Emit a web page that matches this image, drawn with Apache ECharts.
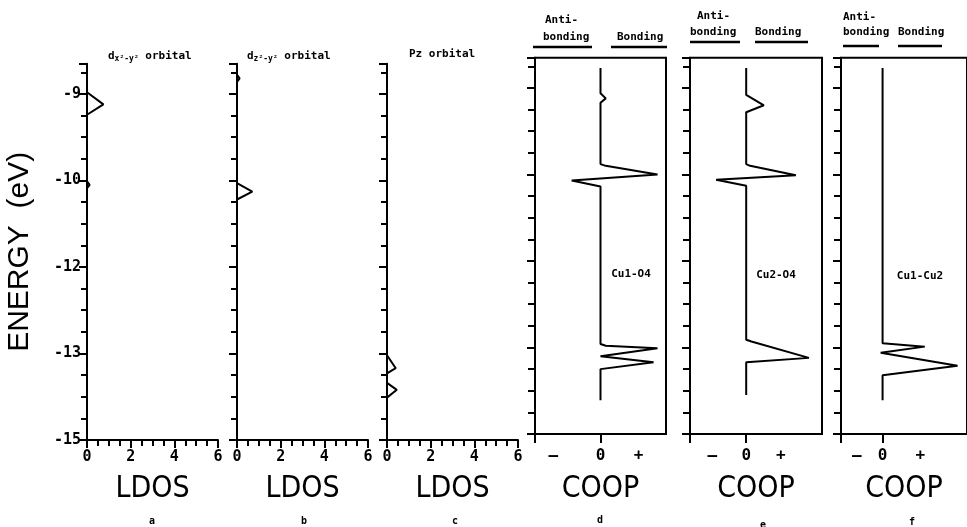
<!DOCTYPE html>
<html><head><meta charset="utf-8">
<script src="https://cdn.jsdelivr.net/npm/echarts@6/dist/echarts.min.js"></script>
<style>html,body{margin:0;padding:0;background:#fff}#c{width:967px;height:527px}</style>
</head><body><div id="c"></div>
<script>
// Energy positions are in axis units: 0 = "-15" label, each major label step = 1
const yTickLabels = ['-15', '-13', '-12', '-10', '-9'];
const ldosTicks = ['0', '2', '4', '6'];
const panelLetters = ['a', 'b', 'c', 'd', 'e', 'f'];
const coopNames = ['Cu1-O4', 'Cu2-O4', 'Cu1-Cu2'];

// LDOS a: d x2-y2 (value, energy position)
const ldosA_V = [0, 0, 0.75, 0, 0, 0.12, 0, 0];
const ldosA_E = [4.35, 4.02, 3.88, 3.76, 2.99, 2.95, 2.91, 0];
// LDOS b: d z2-y2
const ldosB_V = [0, 0, 0.12, 0, 0, 0.7, 0, 0];
const ldosB_E = [4.35, 4.22, 4.18, 4.14, 2.97, 2.87, 2.78, 0];
// LDOS c: Pz
const ldosC_V = [0, 0, 0.4, 0, 0, 0.45, 0, 0];
const ldosC_E = [4.35, 0.98, 0.83, 0.77, 0.66, 0.58, 0.49, 0];
// COOP d: Cu1-O4
const coopD_V = [0, 0, 0.08, 0, 0, 0.08, 0.87, -0.44, 0, 0, 0.08, 0.87, 0, 0.81, 0, 0];
const coopD_E = [4.23, 3.94, 3.88, 3.83, 3.12, 3.10, 3.0, 2.93, 2.86, 1.04, 1.02, 0.99, 0.90, 0.83, 0.75, 0.39];
// COOP e: Cu2-O4
const coopE_V = [0, 0, 0.27, 0, 0, 0.06, 0.76, -0.46, 0, 0, 0.08, 0.96, 0, 0];
const coopE_E = [4.23, 3.92, 3.80, 3.72, 3.12, 3.10, 2.99, 2.94, 2.87, 1.09, 1.07, 0.88, 0.83, 0.45];
// COOP f: Cu1-Cu2
const coopF_V = [0, 0, 0.67, -0.03, 1.19, 0, 0];
const coopF_E = [4.23, 1.05, 1.01, 0.94, 0.79, 0.68, 0.39];

const ldosSeries = [[ldosA_V, ldosA_E], [ldosB_V, ldosB_E], [ldosC_V, ldosC_E]];
const coopSeries = [[coopD_V, coopD_E], [coopE_V, coopE_E], [coopF_V, coopF_E]];

const ldosLeft = [87, 237, 387];
const coopLeft = [535, 690, 841];
const coopRange = [[-1, 1], [-0.86, 1.16], [-0.66, 1.34]];
const coopLabelPos = [[-0.72, 0, 0.58], [-0.52, 0, 0.53], [-0.41, 0, 0.6]];

const mono = '"DejaVu Sans Mono", "Liberation Mono", monospace';
const narrow = '"Liberation Sans Narrow", "DejaVu Sans Condensed", "Liberation Sans", sans-serif';

const grid = [], xAxis = [], yAxis = [], series = [];
ldosLeft.forEach((l, i) => {
  grid.push({left: l, width: 131, top: 63.7, height: 376.3});
  xAxis.push({
    type: 'value', gridIndex: i, min: 0, max: 6, interval: 2,
    axisLine: {show: true, lineStyle: {color: '#000', width: 2}},
    axisTick: {show: true, inside: false, length: 8, lineStyle: {color: '#000', width: 2}},
    minorTick: {show: true, splitNumber: 4, length: 6, lineStyle: {color: '#000', width: 2}},
    splitLine: {show: false},
    axisLabel: {color: '#000', fontFamily: mono, fontWeight: 'bold', fontSize: 15, margin: 10,
      formatter: v => ldosTicks[Math.round(v / 2)]},
    name: 'LDOS', nameLocation: 'middle', nameGap: 34,
    nameTextStyle: {color: '#000', fontFamily: narrow, fontSize: 30}
  });
  yAxis.push({
    type: 'value', gridIndex: i, min: 0, max: 4.35, interval: 1,
    axisLine: {show: true, onZero: false, lineStyle: {color: '#000', width: 2}},
    axisTick: {show: true, length: 8, lineStyle: {color: '#000', width: 2}},
    minorTick: {show: true, splitNumber: 4, length: 6, lineStyle: {color: '#000', width: 2}},
    splitLine: {show: false},
    axisLabel: {show: i === 0, showMaxLabel: false, color: '#000', fontFamily: mono, fontWeight: 'bold', fontSize: 15, margin: 6,
      formatter: v => (Math.abs(v - Math.round(v)) < 1e-6 ? yTickLabels[Math.round(v)] : '')},
    name: i === 0 ? 'ENERGY  (eV)' : '', nameLocation: 'middle', nameGap: 52, nameRotate: 90,
    nameTextStyle: {color: '#000', fontFamily: '"Liberation Sans", sans-serif', fontSize: 30}
  });
  const [vals, es] = ldosSeries[i];
  series.push({type: 'line', xAxisIndex: i, yAxisIndex: i, symbol: 'none', silent: true,
    lineStyle: {color: '#000', width: 2}, data: vals.map((v, k) => [v, es[k]])});
});
coopLeft.forEach((l, j) => {
  const i = j + 3;
  grid.push({left: l, width: j === 1 ? 132 : 131, top: 57.7, height: 376.3, show: true, borderColor: '#000', borderWidth: 2});
  const [mn, mx] = coopRange[j];
  xAxis.push({
    type: 'value', gridIndex: i, min: mn, max: mx,
    axisLine: {show: true, onZero: false, lineStyle: {color: '#000', width: 2}},
    axisTick: {show: true, length: 9, customValues: [mn, 0], lineStyle: {color: '#000', width: 2}},
    splitLine: {show: false},
    axisLabel: {color: '#000', fontFamily: mono, fontWeight: 'bold', fontSize: 16, margin: 14,
      customValues: coopLabelPos[j], showMinLabel: true, showMaxLabel: true,
      formatter: v => (Math.abs(v) < 1e-9 ? '0' : (v < 0 ? '\u2014' : '+'))},
    name: 'COOP', nameLocation: 'middle', nameGap: 40,
    nameTextStyle: {color: '#000', fontFamily: narrow, fontSize: 30}
  });
  yAxis.push({
    type: 'value', gridIndex: i, min: 0, max: 4.35, interval: 1,
    axisLine: {show: true, onZero: false, lineStyle: {color: '#000', width: 2}},
    axisTick: {show: true, length: 8, lineStyle: {color: '#000', width: 2}},
    minorTick: {show: true, splitNumber: 4, length: 7, lineStyle: {color: '#000', width: 2}},
    splitLine: {show: false},
    axisLabel: {show: false}
  });
  const [vals, es] = coopSeries[j];
  series.push({type: 'line', xAxisIndex: i, yAxisIndex: i, symbol: 'none', silent: true,
    lineStyle: {color: '#000', width: 2}, data: vals.map((v, k) => [v, es[k]])});
});

const subStyle = {
  n: {fontFamily: mono, fontWeight: 'bold', fontSize: 11, color: '#000'},
  s: {fontFamily: mono, fontWeight: 'bold', fontSize: 8, color: '#000', padding: [6, 0, 0, 0]}
};
const titles = [
  {text: '{n|d}{s|x²-y²}{n| orbital}', left: 103, top: 44},
  {text: '{n|d}{s|z²-y²}{n| orbital}', left: 242, top: 44},
  {text: '{n|Pz orbital}', left: 404, top: 44}
].map(t => ({text: t.text, left: t.left, top: t.top, textStyle: {rich: subStyle}}));

const g = [];
const txt = (x, y, s, size, font, weight, align) => g.push({type: 'text', x, y,
  style: {text: s, fill: '#000', font: (weight || 'normal') + ' ' + size + 'px ' + font,
    textAlign: align || 'left', textVerticalAlign: 'middle'}});
const ln = (x1, x2, y) => g.push({type: 'line', shape: {x1, y1: y, x2, y2: y}, style: {stroke: '#000', lineWidth: 2.5}});
// Anti-bonding / Bonding headers
const hdr = [
  {ax: 545, ay: 20, bx: 543, by: 37, ux1: 533, ux2: 592, uy: 47, Bx: 617, Bux1: 611, Bux2: 667},
  {ax: 697, ay: 16, bx: 690, by: 32, ux1: 690, ux2: 740, uy: 42, Bx: 755, Bux1: 755, Bux2: 808},
  {ax: 843, ay: 17, bx: 843, by: 32, ux1: 843, ux2: 879, uy: 46, Bx: 898, Bux1: 898, Bux2: 942}
];
hdr.forEach(h => {
  txt(h.ax, h.ay, 'Anti-', 11, mono, 'bold');
  txt(h.bx, h.by, 'bonding', 11, mono, 'bold');
  txt(h.Bx, h.by, 'Bonding', 11, mono, 'bold');
  ln(h.ux1, h.ux2, h.uy);
  ln(h.Bux1, h.Bux2, h.uy);
});
txt(631, 274, coopNames[0], 11, mono, 'bold', 'center');
txt(776, 275, coopNames[1], 11, mono, 'bold', 'center');
txt(920, 276, coopNames[2], 11, mono, 'bold', 'center');
const letterX = [152, 304, 455, 600, 763, 912];
const letterY = [521, 521, 521, 520, 525, 522];
panelLetters.forEach((s, k) => txt(letterX[k], letterY[k], s, 10, mono, 'bold', 'center'));

const chart = echarts.init(document.getElementById('c'), null, {renderer: 'canvas'});
chart.setOption({
  backgroundColor: '#fff', animation: false,
  title: titles, grid, xAxis, yAxis, series, graphic: g
});
</script></body></html>
